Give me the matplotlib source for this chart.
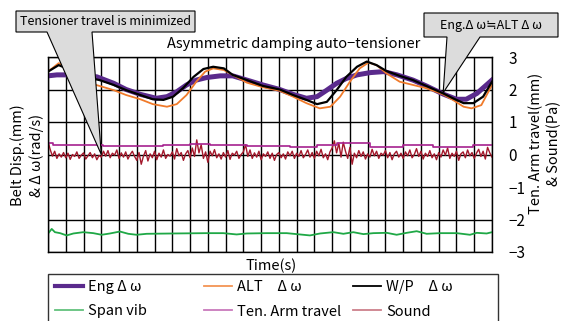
import matplotlib.pyplot as plt
from matplotlib.patches import Polygon, Rectangle
from matplotlib.transforms import IdentityTransform

plt.rcParams['font.family'] = ['Noto Sans CJK JP', 'DejaVu Sans']

# W/P delta omega (black)
wp_t = [0, 0.6, 1.05, 1.6, 2.2, 2.9, 3.7, 4.4, 5.2, 5.9, 6.5, 7.05, 7.6, 8.2, 8.75, 9.3, 9.9,
        10.4, 11.2, 12.1, 13.05, 13.8, 14.55, 15.15, 15.7, 16.25, 16.8, 17.4, 17.95, 18.5,
        19.05, 19.8, 20.55, 21.3, 22.25, 22.8, 23.4, 23.95, 24.5, 25]
wp_v = [2.55, 2.75, 2.65, 2.45, 2.37, 2.29, 2.14, 1.98, 1.83, 1.70, 1.68, 1.78, 2.04, 2.39,
        2.63, 2.70, 2.65, 2.45, 2.29, 2.11, 2.0, 1.83, 1.68, 1.55, 1.62, 1.98, 2.39, 2.70,
        2.86, 2.75, 2.57, 2.42, 2.29, 2.11, 1.88, 1.73, 1.58, 1.58, 1.78, 2.24]

# ALT delta omega (orange)
alt_t = [0, 0.6, 1.05, 1.95, 2.35, 2.9, 3.7, 4.4, 5.2, 5.9, 6.7, 7.25, 7.8, 8.35, 8.85, 9.3,
         9.9, 10.4, 11.2, 12.1, 13.05, 13.8, 14.55, 15.3, 15.9, 16.45, 17.0, 17.55, 18.05,
         18.5, 19.05, 19.8, 20.55, 21.3, 22.25, 22.8, 23.4, 23.85, 24.4, 25]
alt_v = [2.55, 2.81, 2.70, 2.24, 2.19, 2.11, 1.98, 1.83, 1.70, 1.55, 1.47, 1.55, 1.83, 2.24,
         2.55, 2.65, 2.60, 2.45, 2.21, 2.07, 1.96, 1.78, 1.58, 1.42, 1.47, 1.78, 2.24, 2.65,
         2.83, 2.75, 2.50, 2.24, 2.14, 2.04, 1.85, 1.68, 1.47, 1.42, 1.52, 2.14]

# Eng delta omega (purple, thick)
eng_t = [0, 0.5, 1.5, 2.75, 3.7, 4.4, 5.2, 6.1, 6.7, 7.25, 7.8, 8.35, 8.95, 9.7, 10.4, 11.2,
         12.1, 13.05, 13.8, 14.55, 15.15, 15.7, 16.25, 16.8, 17.4, 18.15, 18.9, 19.65, 20.55,
         21.3, 22.25, 23.0, 23.55, 24.15, 25]
eng_v = [2.42, 2.45, 2.45, 2.39, 2.19, 2.0, 1.85, 1.73, 1.78, 1.93, 2.14, 2.29, 2.37, 2.42,
         2.42, 2.29, 2.14, 2.0, 1.85, 1.73, 1.78, 1.98, 2.19, 2.34, 2.45, 2.52, 2.55, 2.45,
         2.29, 2.11, 1.86, 1.70, 1.70, 1.88, 2.29]

# Span vibration (green)
span_t = [0.02, 0.21, 0.39, 0.68, 1.05, 1.43, 1.99, 2.55, 3.02, 3.49, 4.05, 4.52, 4.99, 5.56,
          7.06, 8.93, 9.87, 10.62, 11.19, 12.31, 13.44, 14.0, 14.75, 15.32, 16.07, 16.63,
          17.19, 17.76, 18.32, 19.07, 19.63, 20.2, 20.76, 21.32, 22.07, 23.01, 23.76, 24.14,
          24.7, 25]
span_v = [-2.42, -2.29, -2.39, -2.42, -2.49, -2.43, -2.39, -2.42, -2.47, -2.43, -2.37, -2.44,
          -2.47, -2.44, -2.43, -2.42, -2.42, -2.46, -2.43, -2.42, -2.42, -2.45, -2.49, -2.43,
          -2.39, -2.44, -2.39, -2.45, -2.42, -2.41, -2.47, -2.41, -2.36, -2.44, -2.42, -2.42,
          -2.47, -2.41, -2.43, -2.39]

# Tensioner arm travel (magenta, step-like)
ten_t = [0, 0.3, 3.12, 6.49, 7.99, 9.12, 11.19, 13.63, 15.13, 16.25, 18.13, 20.0, 21.7,
         22.82, 23.95, 25]
ten_v = [0.36, 0.29, 0.27, 0.30, 0.33, 0.28, 0.27, 0.24, 0.28, 0.34, 0.24, 0.28, 0.24, 0.22,
         0.29, 0.29]

# Sound (dark red), one value every 0.125 time units
sound_v = [0.40, 0.15, -0.05, 0.10, -0.12, 0.02, -0.08, 0.06,
           -0.10, 0.04, -0.15, 0.00, -0.06, 0.08, -0.12, -0.02,
           0.05, -0.14, -0.04, 0.06, -0.10, 0.02, -0.16, -0.03,
           -0.08, 0.10, -0.05, 0.12, -0.10, 0.04, -0.02, 0.14,
           -0.12, 0.05, -0.08, 0.08, -0.14, 0.00, 0.10, -0.06,
           -0.18, 0.06, -0.30, -0.05, 0.12, -0.20, 0.02, -0.10,
           0.10, -0.16, 0.04, -0.08, 0.14, -0.12, 0.00, -0.05,
           0.08, -0.14, 0.18, -0.04, 0.06, -0.18, 0.02, 0.12,
           -0.10, 0.20, -0.06, 0.45, 0.05, 0.30, -0.12, 0.08,
           -0.24, 0.10, -0.04, 0.15, -0.10, 0.02, -0.14, 0.06,
           -0.08, 0.12, -0.15, 0.04, -0.02, 0.10, -0.12, 0.00,
           0.08, 0.30, -0.06, 0.14, -0.12, 0.05, -0.08, 0.10,
           -0.16, 0.02, -0.06, 0.08, -0.12, 0.04, -0.18, 0.00,
           0.06, -0.10, 0.02, -0.14, 0.08, -0.04, 0.10, -0.12,
           0.04, -0.06, 0.12, -0.10, 0.00, 0.14, -0.08, 0.06,
           -0.12, 0.10, -0.04, 0.16, -0.10, 0.02, -0.16, 0.08,
           0.20, 0.42, 0.05, 0.35, -0.08, 0.38, 0.10, -0.12,
           0.22, -0.30, 0.04, -0.10, 0.12, -0.06, 0.08, -0.14,
           0.02, -0.08, 0.16, -0.04, 0.10, -0.12, 0.04, -0.02,
           0.12, -0.10, 0.06, -0.16, 0.02, 0.10, -0.08, 0.04,
           -0.12, 0.08, -0.04, 0.14, -0.10, 0.00, 0.18, -0.06,
           0.10, -0.14, 0.04, -0.06, 0.12, -0.10, 0.02, -0.16,
           0.06, -0.08, 0.14, -0.02, 0.20, -0.12, 0.04, -0.06,
           0.10, -0.18, 0.02, 0.08, -0.10, 0.14, -0.04, 0.06,
           -0.12, 0.04, 0.16, -0.06, 0.10, -0.14, 0.22, 0.05,
           -0.08]
sound_t = [i * 0.125 for i in range(len(sound_v))]

y_ticks = [3, 2, 1, 0, -1, -2, -3]
labels = ["Eng Δ ω", "Span vib", "ALT　Δ ω", "Ten. Arm travel", "W/P　Δ ω", "Sound"]

W, H = 563, 321
fig = plt.figure(figsize=(W / 100, H / 100), dpi=100)
ax = fig.add_axes([48 / W, 1 - 252 / H, 444 / W, 195 / H])

ax.set_xlim(0, 25)
ax.set_ylim(-3, 3)
ax.set_xticks(range(26))
ax.set_yticks(y_ticks)
ax.tick_params(length=0, labelbottom=False, labelleft=False, labelright=True,
               labelsize=11, pad=12)
ax.grid(True, color='black', lw=1)
ax.set_axisbelow(True)
for s in ax.spines.values():
    s.set_color('black')
    s.set_linewidth(1)

l_sound, = ax.plot(sound_t, sound_v, color='#a3192c', lw=1.0)
l_ten, = ax.plot(ten_t, ten_v, color='#a6218f', lw=1.2, drawstyle='steps-post')
l_span, = ax.plot(span_t, span_v, color='#1fa846', lw=1.3)
l_eng, = ax.plot(eng_t, eng_v, color='#5a2a8c', lw=3.6)
l_alt, = ax.plot(alt_t, alt_v, color='#f07a2a', lw=1.3)
l_wp, = ax.plot(wp_t, wp_v, color='black', lw=1.6)

# legend, three columns drawn as three legends inside one frame
fig.add_artist(Rectangle((48 / W, -0.05), 450 / W, 0.05 + 1 - 274 / H,
                         transform=fig.transFigure, facecolor='none',
                         edgecolor='#333333', lw=1))
handles = [l_eng, l_span, l_alt, l_ten, l_wp, l_sound]
leg_alpha = [1, 0.7, 0.8, 0.6, 1, 0.55]
col_x = [55, 204, 353]
for c in range(3):
    hs = []
    for k in (2 * c, 2 * c + 1):
        h = plt.Line2D([], [], color=handles[k].get_color(),
                       lw=3 if k == 0 else 1.3, alpha=leg_alpha[k])
        hs.append(h)
    fig.legend(hs, labels[2 * c:2 * c + 2], loc='upper left',
               bbox_to_anchor=(col_x[c] / W, 1 - 280 / H), frameon=False,
               fontsize=10.5, handlelength=1.95, handletextpad=0.3,
               borderpad=0, borderaxespad=0, labelspacing=0.72)

fig.text(294 / W, 1 - 44 / H, "Asymmetric damping auto−tensioner",
         ha='center', va='center', fontsize=10.5)
fig.text(271 / W, 1 - 266 / H, "Time(s)", ha='center', va='center', fontsize=10.5)
fig.text(27 / W, 1 - 155 / H, "Belt Disp.(mm)\n& Δ ω(rad/s)", rotation=90,
         ha='center', va='center', fontsize=10.5, linespacing=1.35, multialignment='center')
fig.text(545 / W, 1 - 143 / H, "Ten. Arm travel(mm)\n& Sound(Pa)", rotation=90,
         ha='center', va='center', fontsize=10.5, linespacing=1.25, multialignment='center')


def callout(box, base, tip, text):
    x0, y0, x1, y1 = box
    tx, ty = ax.transData.transform(tip)
    pts = [(x0, H - y0), (x1, H - y0), (x1, H - y1), (base[1], H - y1), (tx, ty),
           (base[0], H - y1), (x0, H - y1)]
    fig.add_artist(Polygon(pts, closed=True, transform=IdentityTransform(),
                           facecolor='#dcdcdc', edgecolor='black', lw=0.8, zorder=5))
    fig.text((x0 + x1) / 2 / W, 1 - (y0 + y1) / 2 / H, text, ha='center', va='center',
             fontsize=9, zorder=6)


callout((16, 11, 195, 32), (47, 92), (3.0, 0.0), "Tensioner travel is minimized")
callout((424, 13, 558, 37), (447, 480), (22.25, 1.9), "Eng.Δ ω≒ALT Δ ω")

fig.savefig("out.png", dpi=100)
